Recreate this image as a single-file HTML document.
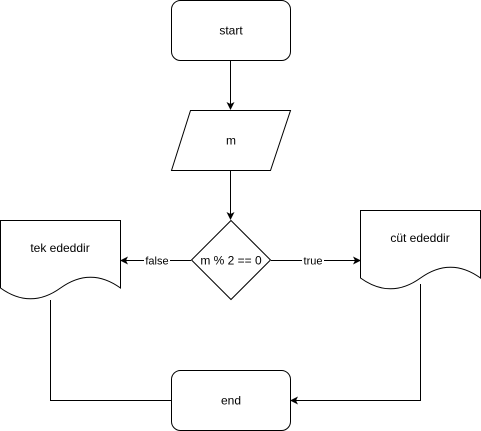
<!DOCTYPE html>
<html><head><meta charset="utf-8"><style>
html,body{margin:0;padding:0;background:#fff;width:481px;height:431px;overflow:hidden}
text{font-family:"Liberation Sans",sans-serif;font-size:12px;fill:#000}
</style></head><body>
<svg width="481" height="431" viewBox="0 0 481 431">
<defs><marker id="ar" markerWidth="8" markerHeight="8" refX="7" refY="4" orient="auto" markerUnits="userSpaceOnUse"><path d="M0,0 L8,4 L0,8 L2,4 Z" fill="#000"/></marker></defs>
<g fill="#fff" stroke="#000" stroke-width="1">
<rect x="171.5" y="0.5" width="119" height="60" rx="9"/>
<path d="M190.5,110.5 H290.5 L270.5,170.5 H171.5 Z"/>
<path d="M231,220.5 L270.5,260 L231,299.5 L191.5,260 Z"/>
<path d="M0.5,220.5 H120.5 V288 Q90.5,266.4 60.5,288 Q30.5,309.6 0.5,288 Z"/>
<path d="M360.5,210.5 H480.5 V278 Q450.5,256.4 420.5,278 Q390.5,299.6 360.5,278 Z"/>
<rect x="171.5" y="370.5" width="119" height="60" rx="9"/>
</g>
<g stroke="#000" fill="none" stroke-width="1">
<path d="M230.5,61 V109" marker-end="url(#ar)"/>
<path d="M230.5,171 V219" marker-end="url(#ar)"/>
<path d="M191,260.5 H121" marker-end="url(#ar)"/>
<path d="M271,260.5 H360" marker-end="url(#ar)"/>
<path d="M50.5,300 V400.5 H171"/>
<path d="M420.5,284 V400.5 H291" marker-end="url(#ar)"/>
</g>
<rect x="144" y="253" width="26" height="14" fill="#fff"/>
<rect x="302" y="253" width="22" height="14" fill="#fff"/>
<text x="157" y="264.5" text-anchor="middle" style="font-size:11px">false</text>
<text x="313" y="264.5" text-anchor="middle" style="font-size:11px">true</text>
<text x="231" y="34.5" text-anchor="middle">start</text>
<text x="231" y="144.5" text-anchor="middle">m</text>
<text x="231" y="264.5" text-anchor="middle">m % 2 == 0</text>
<text x="60" y="252" text-anchor="middle">tek ededdir</text>
<text x="420" y="242" text-anchor="middle">cüt ededdir</text>
<text x="231" y="404.5" text-anchor="middle">end</text>
</svg>
</body></html>
